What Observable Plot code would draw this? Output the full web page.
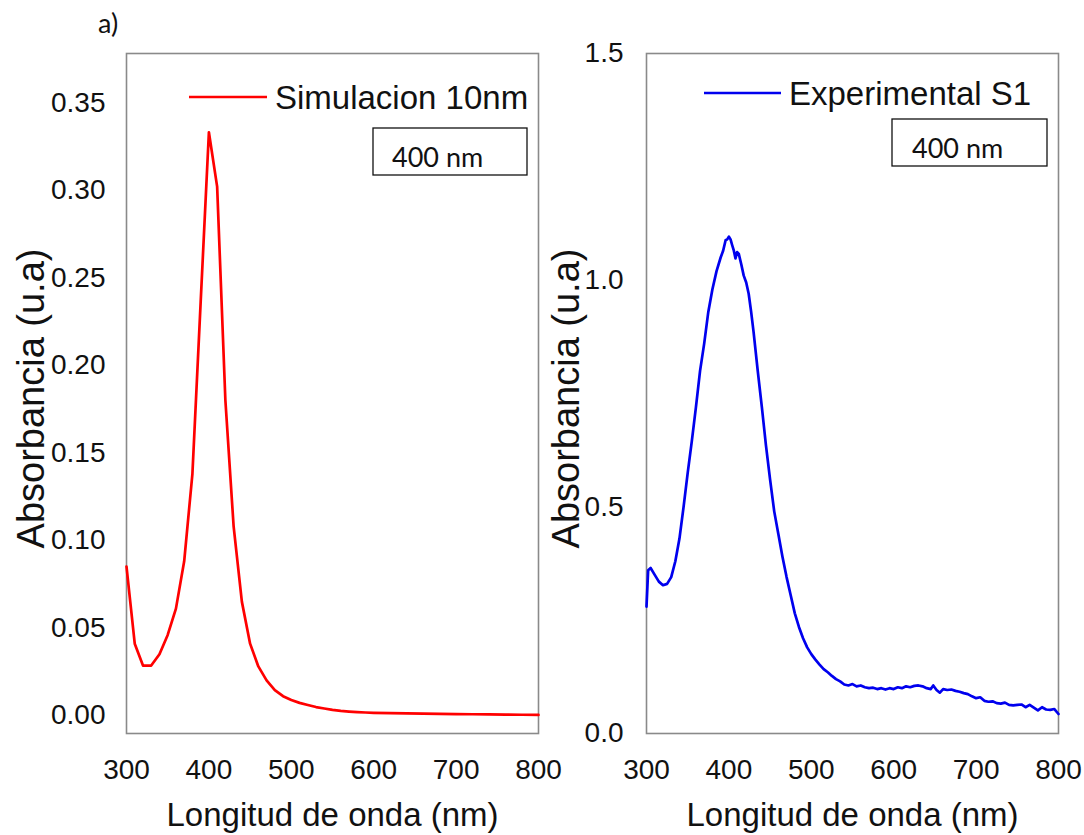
<!DOCTYPE html>
<html>
<head>
<meta charset="utf-8">
<script src="https://cdn.jsdelivr.net/npm/d3@7"></script>
<script src="https://cdn.jsdelivr.net/npm/@observablehq/plot@0.6"></script>
<style>
  html, body { margin: 0; padding: 0; background: #fff; }
  #wrap { position: relative; width: 1084px; height: 835px; overflow: hidden; background: #fff; }
  #left, #right { position: absolute; top: 0; }
  #left { left: 0; }
  #right { left: 542px; }
  svg { overflow: visible; }
</style>
</head>
<body>
<div id="wrap"><div id="left"></div><div id="right"></div></div>
<script>
// ---------- data ----------
const simWavelength = [300,310,320,330,340,350,360,370,380,390,400,410,420,430,440,450,460,470,480,490,500,510,520,530,540,550,560,570,580,590,600,620,640,660,680,700,720,740,760,780,800];
const simAbsorbance = [0.085,0.041,0.0285,0.0285,0.035,0.046,0.061,0.088,0.138,0.236,0.333,0.302,0.180,0.108,0.065,0.041,0.028,0.020,0.0145,0.011,0.0088,0.0072,0.006,0.0048,0.0040,0.0032,0.0026,0.0022,0.0019,0.0017,0.0015,0.0013,0.0012,0.0010,0.0009,0.0008,0.0007,0.0006,0.0005,0.0004,0.0003];

const expWavelength = [300,302,305,310,315,320,325,330,335,340,345,350,355,360,365,370,375,380,385,390,393,396,398,400,402,404,406,408,410,412,415,418,421,424,427,430,435,440,445,450,455,460,465,470,475,480,485,490,495,500,505,510,515,520,525,530,535,540,545,550,555,560,565,570,575,580,585,590,595,600,605,610,615,620,625,630,635,640,645,648,652,656,660,665,670,675,680,685,690,695,700,705,710,715,720,725,730,735,740,745,750,755,760,765,770,775,780,785,790,795,800];
const expAbsorbance = [0.28,0.36,0.365,0.35,0.335,0.327,0.33,0.345,0.38,0.43,0.50,0.575,0.645,0.72,0.80,0.86,0.93,0.98,1.02,1.05,1.065,1.088,1.09,1.096,1.09,1.077,1.065,1.048,1.062,1.058,1.035,1.01,0.995,0.97,0.93,0.885,0.80,0.72,0.635,0.56,0.49,0.44,0.39,0.345,0.305,0.265,0.235,0.21,0.19,0.175,0.163,0.152,0.142,0.135,0.127,0.12,0.115,0.108,0.106,0.109,0.104,0.106,0.102,0.10,0.101,0.098,0.10,0.097,0.10,0.098,0.102,0.10,0.104,0.102,0.105,0.106,0.104,0.10,0.098,0.106,0.096,0.09,0.098,0.096,0.097,0.094,0.092,0.089,0.087,0.082,0.078,0.08,0.072,0.07,0.071,0.067,0.066,0.068,0.063,0.062,0.063,0.064,0.058,0.063,0.057,0.051,0.058,0.053,0.052,0.054,0.043];

const xTicks = [300,400,500,600,700,800];
const simYTicks = [0,0.05,0.10,0.15,0.20,0.25,0.30,0.35];
const expYTicks = [0,0.5,1.0,1.5];

const simLabel = "Simulacion 10nm";
const expLabel = "Experimental S1";
const peakLabel = "400 nm";
const xTitle = "Longitud de onda (nm)";
const yTitle = "Absorbancia (u.a)";
const panelTag = "a)";

// ---------- helpers ----------
const sans = "'Liberation Sans', Arial, Helvetica, sans-serif";
const humanist = "Lato, 'Open Sans', sans-serif";
const simData = simWavelength.map((w, i) => ({w, a: simAbsorbance[i]}));
const expData = expWavelength.map((w, i) => ({w, a: expAbsorbance[i]}));

function overlay(color, label, o) {
  return (index, scales, values, dim) => {
    const g = d3.create("svg:g").attr("text-anchor", "start");
    const x0 = dim.marginLeft, y0 = dim.marginTop;
    g.append("line")
      .attr("x1", x0 + o.l1).attr("x2", x0 + o.l2)
      .attr("y1", y0 + o.ly).attr("y2", y0 + o.ly)
      .attr("stroke", color).attr("stroke-width", 2.5);
    g.append("text")
      .attr("x", x0 + o.tx).attr("y", y0 + o.ty)
      .attr("text-anchor", "start")
      .attr("font-family", sans).attr("font-size", 33).attr("fill", "#111")
      .text(label);
    g.append("rect")
      .attr("x", x0 + o.bx).attr("y", y0 + o.by)
      .attr("width", o.bw).attr("height", o.bh)
      .attr("fill", "none").attr("stroke", "#111").attr("stroke-width", 1.3);
    g.append("text")
      .attr("x", x0 + o.px).attr("y", y0 + o.py)
      .attr("text-anchor", "start")
      .attr("font-family", humanist).attr("font-size", 27).attr("fill", "#111")
      .text(peakLabel);
    if (o.tag) {
      g.append("text")
        .attr("x", o.tag.x).attr("y", o.tag.y)
        .attr("text-anchor", "start")
        .attr("font-family", humanist).attr("font-size", 27).attr("fill", "#111")
        .text(panelTag);
    }
    return g.node();
  };
}

function panel({data, color, label, yDomain, yTicks, yFmt, marginLeft, marginRight, yPad, yTitleDx, ov}) {
  return Plot.plot({
    width: 542,
    height: 835,
    marginTop: 53,
    marginBottom: 102,
    marginLeft,
    marginRight,
    style: {fontFamily: sans, fontSize: "28px", color: "#111", background: "transparent", overflow: "visible"},
    x: {domain: [300, 800]},
    y: {domain: yDomain},
    marks: [
      Plot.frame({stroke: "#8a8a8a", strokeWidth: 1.6}),
      Plot.line(data, {x: "w", y: "a", stroke: color, strokeWidth: 2.7, curve: "linear"}),
      Plot.axisX({ticks: xTicks, tickSize: 0, tickPadding: 26, label: null, fontSize: 28, tickFormat: d3.format("d")}),
      Plot.axisY({ticks: yTicks, tickSize: 0, tickPadding: yPad, label: null, fontSize: 28, tickFormat: d3.format(yFmt)}),
      Plot.text([xTitle], {frameAnchor: "bottom", dy: 82, lineAnchor: "middle", textAnchor: "middle", fontSize: 33, fill: "#111"}),
      Plot.text([yTitle], {frameAnchor: "left", dx: yTitleDx, dy: 5, rotate: -90, textAnchor: "middle", lineAnchor: "middle", fontSize: 38, fill: "#111"}),
      overlay(color, label, ov)
    ]
  });
}

document.getElementById("left").append(panel({
  data: simData, color: "#ff0000", label: simLabel,
  yDomain: [-0.0103, 0.378], yTicks: simYTicks, yFmt: ".2f",
  marginLeft: 126, marginRight: 4, yPad: 21, yTitleDx: -95,
  ov: {l1: 63, l2: 141, ly: 44, tx: 149, ty: 56, bx: 247, by: 75, bw: 154, bh: 47, px: 266, py: 114,
       tag: {x: 98, y: 33}}
}));

document.getElementById("right").append(panel({
  data: expData, color: "#0000ee", label: expLabel,
  yDomain: [0, 1.5], yTicks: expYTicks, yFmt: ".1f",
  marginLeft: 104, marginRight: 26, yPad: 23, yTitleDx: -80,
  ov: {l1: 58, l2: 135, ly: 40, tx: 143, ty: 52, bx: 246, by: 66, bw: 155, bh: 47, px: 266, py: 105}
}));
</script>
</body>
</html>
